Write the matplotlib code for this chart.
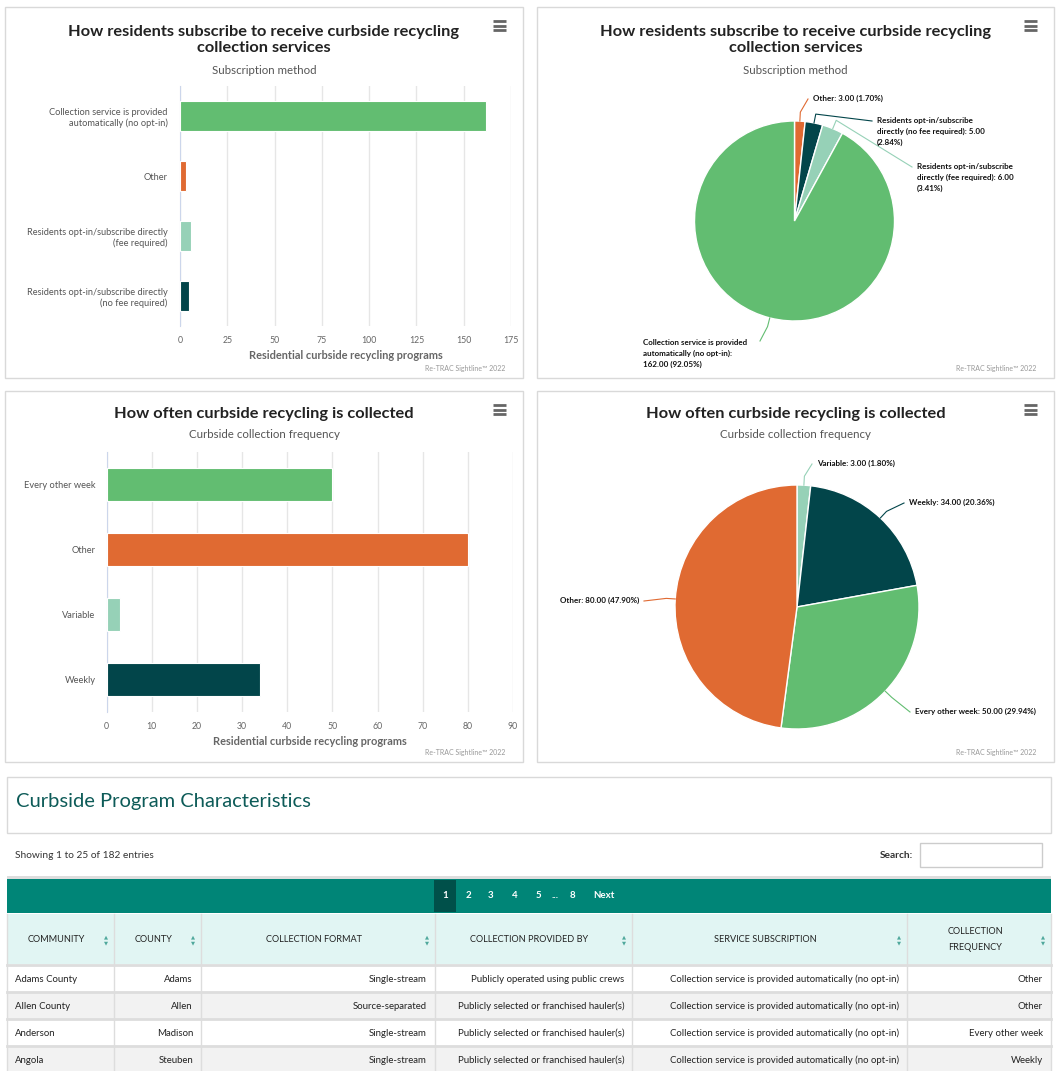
import textwrap
import numpy as np
import matplotlib.pyplot as plt
from matplotlib.patches import Rectangle

plt.rcParams["font.family"] = ["Lato", "DejaVu Sans"]

W, H = 1060, 1071

# ---------- data ----------
SUB_NAMES = ["Collection service is provided automatically (no opt-in)",
             "Other",
             "Residents opt-in/subscribe directly (fee required)",
             "Residents opt-in/subscribe directly (no fee required)"]
SUB_TICKS = ["Collection service is provided\nautomatically (no opt-in)",
             "Other",
             "Residents opt-in/subscribe directly\n(fee required)",
             "Residents opt-in/subscribe directly\n(no fee required)"]
SUB_VALUES = [162, 3, 6, 5]
SUB_XTICKS = [0, 25, 50, 75, 100, 125, 150, 175]

FREQ_NAMES = ["Every other week", "Other", "Variable", "Weekly"]
FREQ_VALUES = [50, 80, 3, 34]
FREQ_XTICKS = [0, 10, 20, 30, 40, 50, 60, 70, 80, 90]

COLORS = ["#62bd71", "#e06a32", "#96d1b7", "#02454a"]

TABLE_HEADERS = ["COMMUNITY", "COUNTY", "COLLECTION FORMAT", "COLLECTION PROVIDED BY",
                 "SERVICE SUBSCRIPTION", "COLLECTION\nFREQUENCY"]
TABLE_ROWS = [
    ["Adams County", "Adams", "Single-stream", "Publicly operated using public crews",
     "Collection service is provided automatically (no opt-in)", "Other"],
    ["Allen County", "Allen", "Source-separated", "Publicly selected or franchised hauler(s)",
     "Collection service is provided automatically (no opt-in)", "Other"],
    ["Anderson", "Madison", "Single-stream", "Publicly selected or franchised hauler(s)",
     "Collection service is provided automatically (no opt-in)", "Every other week"],
    ["Angola", "Steuben", "Single-stream", "Publicly selected or franchised hauler(s)",
     "Collection service is provided automatically (no opt-in)", "Weekly"],
]
PAGES = ["1", "2", "3", "4", "5", "...", "8", "Next"]

# ---------- layout (pixels) ----------
BORDER = "#d9d9d9"
COL_EDGES = [7, 114, 201, 435, 632, 907, 1051]
PAGE_X = [445, 468, 491, 515, 538, 555, 572, 604]
ROW_TOPS = [966, 993, 1020, 1047]
ROW_H = 27

fig = plt.figure(figsize=(W / 100, H / 100), dpi=100)
bg = fig.add_axes([0, 0, 1, 1])
bg.set_xlim(0, W)
bg.set_ylim(H, 0)
bg.axis("off")


def px_axes(x0, y0, x1, y1):
    return fig.add_axes([x0 / W, 1 - y1 / H, (x1 - x0) / W, (y1 - y0) / H])


def panel(box, title, subtitle, title_y, sub_y):
    x0, y0, x1, y1 = box
    bg.add_patch(Rectangle((x0, y0), x1 - x0, y1 - y0, fc="white", ec=BORDER, lw=1))
    cx = (x0 + x1) / 2
    bg.text(cx, title_y, title, ha="center", va="center", fontsize=11.8,
            fontweight="bold", color="#222222", linespacing=1.2)
    bg.text(cx, sub_y, subtitle, ha="center", va="center", fontsize=8.3, color="#555555")
    for dy in (0, 4.5, 9):
        bg.plot([x1 - 30, x1 - 17], [y0 + 14 + dy] * 2, color="#666666", lw=2,
                solid_capstyle="butt")
    bg.text(x1 - 18, y1 - 9, "Re-TRAC Sightline\u2122 2022", ha="right", va="center",
            fontsize=5, color="#999999")


def bar_chart(rect, ticks, values, xticks, ypad, ysize):
    ax = px_axes(*rect)
    y = np.arange(len(values))
    ax.barh(y, values, height=0.5, color=COLORS, edgecolor="white", lw=0.8, zorder=3)
    ax.set_ylim(len(values) - 0.5, -0.5)
    ax.set_xlim(xticks[0], xticks[-1])
    ax.set_yticks(y, ticks)
    ax.set_xticks(xticks)
    ax.grid(axis="x", color="#e6e6e6", lw=1, zorder=0)
    for s in ("top", "right", "bottom"):
        ax.spines[s].set_visible(False)
    ax.spines["left"].set_color("#ccd6eb")
    ax.tick_params(axis="y", length=0, labelsize=ysize, labelcolor="#555555", pad=ypad)
    ax.tick_params(axis="x", length=0, labelsize=6.3, labelcolor="#666666", pad=7)
    ax.set_xlabel("Residential curbside recycling programs", fontsize=7.9,
                  fontweight="bold", color="#666666", labelpad=4)
    return ax


def pie_chart(box, center, R, names, values, labels):
    x0, y0, x1, y1 = box
    cx, cy = center
    ax = px_axes(x0 + 1, y0 + 60, x1 - 1, y1 - 16)
    order = np.argsort(values, kind="stable")
    vals = np.array(values)[order]
    cols = [COLORS[i] for i in order]
    wedges, _ = ax.pie(vals, colors=cols, radius=R, startangle=90, counterclock=False,
                       wedgeprops=dict(ec="white", lw=1))
    ax.set_xlim(x0 + 1 - cx, x1 - 1 - cx)
    ax.set_ylim(cy - (y1 - 16), cy - (y0 + 60))
    total = vals.sum()
    for w, i, c in zip(wedges, order, cols):
        ang = np.deg2rad((w.theta1 + w.theta2) / 2)
        ex, ey = R * np.cos(ang), R * np.sin(ang)
        bx, by = (R + 9) * np.cos(ang), (R + 9) * np.sin(ang)
        spec = labels[names[i]]
        tx, ty, ha = spec[:3]
        lx, ly = tx - cx, cy - ty
        if len(spec) > 3:
            endx, endy = spec[3][0] - cx, cy - spec[3][1]
        else:
            endx, endy = (lx - 5 if ha == "left" else lx + 5), ly
        ax.plot([ex, bx, endx], [ey, by, endy], color=c, lw=0.8, clip_on=False)
        txt = f"{names[i]}: {values[i]:.2f} ({values[i] / total * 100:.2f}%)"
        ax.text(lx, ly + 4.5, textwrap.fill(txt, 32), ha=ha, va="top", fontsize=5.8,
                fontweight="bold", color="#111111", linespacing=1.7)


# ---------- charts ----------
panel((5, 7, 523, 378), "How residents subscribe to receive curbside recycling\ncollection services",
      "Subscription method", 40, 70)
bar_chart((180, 86, 511, 326), SUB_TICKS, SUB_VALUES, SUB_XTICKS, 9, 6.7)

panel((537, 7, 1054, 378), "How residents subscribe to receive curbside recycling\ncollection services",
      "Subscription method", 40, 70)
pie_chart((537, 7, 1054, 378), (794.5, 221), 100, SUB_NAMES, SUB_VALUES, {
    "Other": (813, 99, "left"),
    "Residents opt-in/subscribe directly (no fee required)": (877, 121, "left"),
    "Residents opt-in/subscribe directly (fee required)": (917, 167, "left"),
    "Collection service is provided automatically (no opt-in)": (643, 343, "left", (760, 341)),
})

panel((5, 391, 523, 762), "How often curbside recycling is collected",
      "Curbside collection frequency", 414, 435)
bar_chart((106.5, 452, 513, 712), FREQ_NAMES, FREQ_VALUES, FREQ_XTICKS, 8, 6.7)

panel((537, 391, 1054, 762), "How often curbside recycling is collected",
      "Curbside collection frequency", 414, 435)
pie_chart((537, 391, 1054, 762), (797, 607), 122, FREQ_NAMES, FREQ_VALUES, {
    "Variable": (817, 464, "left"),
    "Weekly": (909, 503, "left"),
    "Other": (639, 601, "right"),
    "Every other week": (915, 712, "left"),
})

# ---------- table ----------
bg.add_patch(Rectangle((7, 777), 1044, 56, fc="white", ec=BORDER, lw=1))
bg.text(16, 801, "Curbside Program Characteristics", ha="left", va="center",
        fontsize=14.5, color="#0d5b58")
bg.text(15, 855, "Showing 1 to 25 of 182 entries", ha="left", va="center",
        fontsize=7.3, color="#333333")
bg.text(913, 855, "Search:", ha="right", va="center", fontsize=7.3,
        fontweight="bold", color="#333333")
bg.add_patch(Rectangle((920, 843), 122, 24, fc="white", ec="#cccccc", lw=1))

bg.add_patch(Rectangle((7, 876), 1044, 3, fc="#dddddd", ec="none"))
bg.add_patch(Rectangle((7, 879), 1044, 34, fc="#008577", ec="none"))
bg.add_patch(Rectangle((434, 880), 22, 32, fc="#00504a", ec="none"))
for px, p in zip(PAGE_X, PAGES):
    bg.text(px, 896, p, ha="center", va="center", fontsize=7,
            fontweight="bold", color="white")

bg.add_patch(Rectangle((7, 914), 1044, 50, fc="#e1f5f3", ec="none"))
for left, right, head in zip(COL_EDGES[:-1], COL_EDGES[1:], TABLE_HEADERS):
    bg.text((left + right) / 2 - 4, 940, head, ha="center", va="center", fontsize=6.6,
            color="#222222", linespacing=2.0)
    bg.text(right - 8, 937, "\u25b2", ha="center", va="center", fontsize=3.8, color="#4fa89c")
    bg.text(right - 8, 943, "\u25bc", ha="center", va="center", fontsize=3.8, color="#4fa89c")

for r, (top, row) in enumerate(zip(ROW_TOPS, TABLE_ROWS)):
    fc = "white" if r % 2 == 0 else "#f2f2f2"
    bg.add_patch(Rectangle((7, top), 1044, ROW_H, fc=fc, ec="none"))
    bg.plot([7, 1051], [top - 1, top - 1], color="#dddddd", lw=2)
    for c, (left, right, cell) in enumerate(zip(COL_EDGES[:-1], COL_EDGES[1:], row)):
        if c == 0:
            bg.text(left + 8, top + ROW_H / 2, cell, ha="left", va="center",
                    fontsize=6.9, color="#222222")
        else:
            bg.text(right - 8, top + ROW_H / 2, cell, ha="right", va="center",
                    fontsize=6.9, color="#222222")

for x in COL_EDGES[1:-1]:
    bg.plot([x, x], [914, H], color="#dddddd", lw=1)
bg.plot([7, 7], [914, H], color="#dddddd", lw=1)
bg.plot([1051, 1051], [914, H], color="#dddddd", lw=1)

fig.savefig("out.png", dpi=100, facecolor="white")
